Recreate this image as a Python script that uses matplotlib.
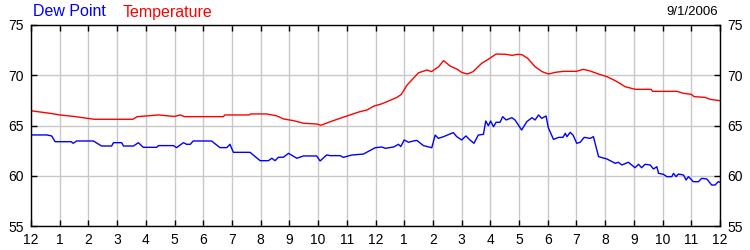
import matplotlib
matplotlib.use('Agg')
import matplotlib.pyplot as plt

plt.rcParams['font.family'] = ['Liberation Sans', 'DejaVu Sans']

# hours since midnight
temp_hours = [0.0, 0.3, 0.7, 1.0, 1.5, 2.2, 3.55, 3.7, 4.45, 5.0, 5.2, 5.35, 6.7, 6.75,
              7.6, 7.65, 8.2, 8.55, 8.8, 9.15, 9.5, 9.95, 10.1, 10.4, 10.75, 11.1, 11.45,
              11.7, 11.95, 12.2, 12.4, 12.75, 12.9, 13.1, 13.5, 13.8, 13.95, 14.2, 14.37,
              14.6, 14.85, 15.0, 15.2, 15.4, 15.7, 15.93, 16.2, 16.55, 16.75, 16.95, 17.1,
              17.3, 17.56, 17.8, 18.03, 18.26, 18.55, 19.0, 19.24, 19.48, 19.77, 20.06,
              20.35, 20.7, 21.05, 21.6, 21.65, 22.5, 22.73, 23.0, 23.1, 23.48, 23.66, 24.0]
temperature = [66.47, 66.35, 66.2, 66.05, 65.9, 65.62, 65.62, 65.88, 66.05, 65.9, 66.05, 65.88,
               65.88, 66.05, 66.05, 66.15, 66.15, 65.97, 65.65, 65.48, 65.22, 65.15, 65.02,
               65.35, 65.7, 66.04, 66.37, 66.54, 66.94, 67.14, 67.37, 67.8, 68.1, 69.03, 70.25,
               70.52, 70.36, 70.85, 71.45, 70.92, 70.59, 70.29, 70.12, 70.36, 71.19, 71.59,
               72.11, 72.08, 71.98, 72.08, 72.05, 71.68, 70.85, 70.36, 70.12, 70.29, 70.39,
               70.39, 70.59, 70.42, 70.12, 69.86, 69.46, 68.86, 68.6, 68.6, 68.4, 68.4, 68.2,
               68.1, 67.87, 67.8, 67.6, 67.47]

dew_hours = [0.0, 0.55, 0.72, 0.84, 1.4, 1.47, 1.59, 2.17, 2.46, 2.81, 2.87, 3.16, 3.22, 3.57,
             3.74, 3.91, 4.38, 4.44, 4.96, 5.07, 5.31, 5.42, 5.55, 5.65, 6.29, 6.58, 6.82,
             6.93, 7.05, 7.63, 7.98, 8.27, 8.39, 8.5, 8.62, 8.79, 8.97, 9.26, 9.49, 9.95,
             10.07, 10.3, 10.42, 10.77, 10.88, 11.17, 11.58, 11.99, 12.22, 12.34, 12.63, 12.8,
             12.88, 13.0, 13.15, 13.32, 13.44, 13.67, 13.96, 14.08, 14.19, 14.37, 14.71, 14.83,
             15.0, 15.15, 15.29, 15.43, 15.58, 15.76, 15.84, 15.93, 16.01, 16.11, 16.2, 16.34,
             16.43, 16.55, 16.75, 16.86, 17.09, 17.27, 17.45, 17.56, 17.68, 17.79, 17.94,
             18.02, 18.2, 18.38, 18.53, 18.61, 18.67, 18.78, 18.88, 19.01, 19.13, 19.27,
             19.48, 19.59, 19.77, 20.06, 20.35, 20.46, 20.58, 20.81, 21.04, 21.16, 21.27,
             21.39, 21.57, 21.68, 21.8, 21.86, 22.03, 22.15, 22.32, 22.38, 22.47, 22.55,
             22.73, 22.82, 22.9, 23.07, 23.25, 23.36, 23.54, 23.71, 23.83, 23.94, 24.0]
dew_point = [64.06, 64.06, 63.96, 63.39, 63.39, 63.23, 63.46, 63.46, 62.96, 62.96, 63.29, 63.29,
             62.96, 62.96, 63.29, 62.83, 62.83, 63.0, 63.0, 62.8, 63.29, 63.13, 63.13, 63.46,
             63.46, 62.8, 62.8, 63.13, 62.33, 62.33, 61.5, 61.5, 61.74, 61.5, 61.84, 61.84,
             62.23, 61.74, 61.97, 61.97, 61.47, 62.07, 62.0, 62.0, 61.83, 62.06, 62.16, 62.79,
             62.86, 62.73, 62.86, 63.13, 62.9, 63.56, 63.33, 63.46, 63.52, 63.0, 62.79, 64.05,
             63.72, 63.89, 64.29, 63.89, 63.56, 63.96, 63.56, 63.23, 64.05, 64.12, 65.45, 64.98,
             65.45, 64.88, 65.32, 65.32, 65.88, 65.55, 65.78, 65.55, 64.55, 65.38, 65.78, 65.55,
             66.05, 65.71, 65.95, 64.78, 63.62, 63.82, 63.82, 64.22, 63.89, 64.32, 64.05, 63.23,
             63.33, 63.82, 63.72, 63.89, 61.9, 61.67, 61.24, 61.34, 61.07, 61.34, 60.8, 61.14,
             60.8, 61.14, 61.07, 60.67, 60.9, 60.24, 60.14, 59.91, 59.91, 60.24, 59.91, 60.17,
             60.07, 59.58, 59.91, 59.41, 59.41, 59.74, 59.68, 59.08, 59.08, 59.41, 59.35]

hour_labels = ['12', '1', '2', '3', '4', '5', '6', '7', '8', '9', '10', '11',
               '12', '1', '2', '3', '4', '5', '6', '7', '8', '9', '10', '11', '12']
y_ticks = [55, 60, 65, 70, 75]

fig = plt.figure(figsize=(7.5, 2.5), dpi=100)
ax = fig.add_axes([31 / 750, 1 - 226 / 250, 689 / 750, 201 / 250])

ax.plot(temp_hours, temperature, color='#ff0000', lw=1.0)
ax.plot(dew_hours, dew_point, color='#0000ff', lw=1.0)

ax.set_xlim(0, 24)
ax.set_ylim(55, 75)
ax.set_xticks(range(25))
ax.set_xticklabels(hour_labels)
ax.set_yticks(y_ticks)
ax.grid(True, color='#c8c8c8', lw=1.0)
ax.set_axisbelow(True)
ax.tick_params(direction='in', length=4, width=1, colors='black', labelsize=10,
               top=True, right=True, labelright=True, pad=5)
for s in ax.spines.values():
    s.set_linewidth(1.0)
    s.set_color('black')

fig.text(33 / 750, 1 - 12 / 250, 'Dew Point', color='#0000ff', fontsize=11.5, va='center')
fig.text(123 / 750, 1 - 12 / 250, 'Temperature', color='#ff0000', fontsize=11.5, va='center')
fig.text(718 / 750, 1 - 12 / 250, '9/1/2006', color='black', fontsize=9.5, va='center', ha='right')

fig.savefig('out.png', dpi=100)
